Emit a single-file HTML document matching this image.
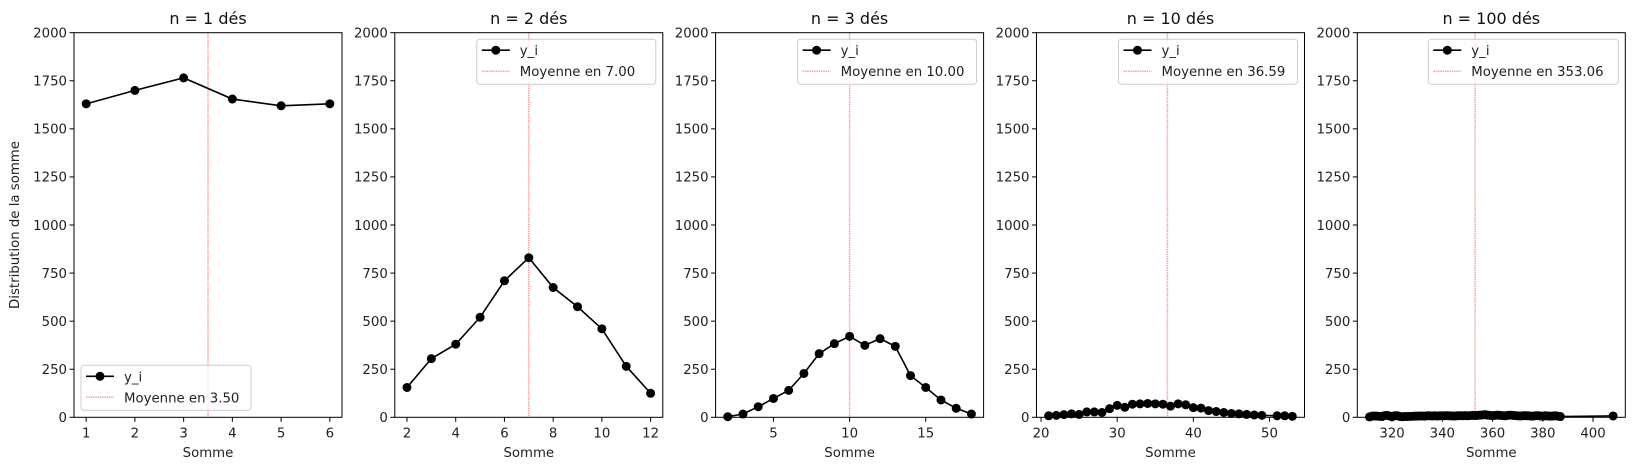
<!DOCTYPE html>
<html><head><meta charset="utf-8"><style>
html,body{margin:0;padding:0;background:#fff;}
svg{display:block;font-family:"DejaVu Sans","Liberation Sans",sans-serif;}
</style></head><body>
<svg id="fig" width="1634" height="470" viewBox="0 0 1634 470" xmlns="http://www.w3.org/2000/svg"></svg>
<script>
const titles = ["n = 1 dés","n = 2 dés","n = 3 dés","n = 10 dés","n = 100 dés"];
const means = [3.50, 7.00, 10.00, 36.59, 353.06];
const xs1 = [1,2,3,4,5,6];
const ys1 = [1630,1700,1765,1655,1620,1630];
const xs2 = [2,3,4,5,6,7,8,9,10,11,12];
const ys2 = [155,305,380,520,710,830,675,575,460,265,125];
const xs3 = [2,3,4,5,6,7,8,9,10,11,12,13,14,15,16,17,18];
const ys3 = [3,17,55,98,140,228,331,383,421,374,409,369,217,155,90,47,17];
const xs4 = [21,22,23,24,25,26,27,28,29,30,31,32,33,34,35,36,37,38,39,40,41,42,43,44,45,46,47,48,49,51,52,53];
const ys4 = [8,10,14,18,15,28,28,25,45,62,52,68,70,72,70,68,58,70,65,50,48,35,30,25,20,18,15,12,10,8,8,5];
const xs5 = [311,312,313,314,315,316,317,318,319,320,321,322,323,324,325,326,327,328,329,330,331,332,333,334,335,336,337,338,339,340,341,342,343,344,345,346,347,348,349,350,351,352,353,354,355,356,357,358,359,360,361,362,363,364,365,366,367,368,369,370,371,372,373,374,375,376,377,378,379,380,381,382,383,384,385,386,387,408];
const ys5 = [2,6,7,6,5,4,9,10,7,3,8,9,5,3,4,4,5,5,6,6,7,7,6,8,8,7,8,7,8,8,8,9,8,7,7,8,9,8,9,8,9,10,9,10,11,12,14,11,10,9,10,11,10,9,8,10,11,10,9,8,7,8,9,8,7,6,8,9,7,6,8,7,6,7,8,6,4,7];
const seriesX = [xs1,xs2,xs3,xs4,xs5];
const seriesY = [ys1,ys2,ys3,ys4,ys5];
const xTicks = [[1,2,3,4,5,6],[2,4,6,8,10,12],[5,10,15],[20,30,40,50],[320,340,360,380,400]];
const yTicks = [0,250,500,750,1000,1250,1500,1750,2000];
const yMax = 2000;

{
const NS = "http://www.w3.org/2000/svg";
const svg = document.getElementById('fig');
function mk(tag, attrs, parent){const e=document.createElementNS(NS,tag);for(const k in attrs)e.setAttribute(k,attrs[k]);(parent||svg).appendChild(e);return e;}

const lefts = [74, 394.8, 715.6, 1036.5, 1357.3];
const W = 268, AX_TOP = 32.7, AX_BOTTOM = 417.3;
const FS = 13.3;

for (let p=0;p<5;p++){
  const L = lefts[p], R = L+W;
  const xv = seriesX[p], yv = seriesY[p];
  const mn = Math.min(...xv), mxv = Math.max(...xv), pad=(mxv-mn)*0.05;
  const x0 = mn-pad, x1 = mxv+pad;
  const sx = v => L + (v-x0)/(x1-x0)*W;
  const sy = v => AX_BOTTOM - v/yMax*(AX_BOTTOM-AX_TOP);
  const g = mk('g',{});
  
  
  const ml = mk('line',{x1:sx(means[p]),x2:sx(means[p]),y1:AX_TOP,y2:AX_BOTTOM,stroke:'#ff9f9f','stroke-width':1.5,'stroke-dasharray':'1.5,0.8'},g);
  
  
  const pts = xv.map((v,i)=>sx(v)+','+sy(yv[i])).join(' ');
  const pl = mk('polyline',{points:pts,fill:'none',stroke:'#000','stroke-width':1.6},g);
  
  
  xv.forEach((v,i)=>{
    const c = mk('circle',{cx:sx(v),cy:sy(yv[i]),r:4.5,fill:'#000'},g);
    
    
  });
  const fr = mk('rect',{x:L,y:AX_TOP,width:W,height:AX_BOTTOM-AX_TOP,fill:'none',stroke:'#000','stroke-width':1},g);
  
  
  yTicks.forEach(t=>{
    mk('line',{x1:L-4.5,x2:L,y1:sy(t),y2:sy(t),stroke:'#000'},g);
    const tx = mk('text',{x:L-7,y:sy(t)+4.8,'text-anchor':'end','font-size':FS,fill:'#222'},g);
    tx.textContent = t;
    
    
  });
  xTicks[p].forEach(t=>{
    mk('line',{x1:sx(t),x2:sx(t),y1:AX_BOTTOM,y2:AX_BOTTOM+4.5,stroke:'#000'},g);
    const tx = mk('text',{x:sx(t),y:AX_BOTTOM+20,'text-anchor':'middle','font-size':FS,fill:'#222'},g);
    tx.textContent = t;
    
    
  });
  const xl = mk('text',{x:L+W/2,y:457,'text-anchor':'middle','font-size':FS,fill:'#222'},g);
  xl.textContent='Somme';
  
  
  const tt = mk('text',{x:L+W/2,y:24,'text-anchor':'middle','font-size':16,fill:'#111'},g);
  tt.textContent=titles[p];
  
  
  const lw = p===0?170:(p===4?190:179), lh=45;
  const lx = p===0? L+7 : R-7-lw;
  const ly = p===0? AX_BOTTOM-7-lh : AX_TOP+6.5;
  const lg = mk('g',{},g);
  
  
  mk('rect',{x:lx,y:ly,width:lw,height:lh,rx:3,fill:'#fff','fill-opacity':0.8,stroke:'#ccc','stroke-width':1},lg);
  mk('line',{x1:lx+5,x2:lx+33,y1:ly+11,y2:ly+11,stroke:'#000','stroke-width':1.6},lg);
  mk('circle',{cx:lx+19,cy:ly+11,r:4.5,fill:'#000'},lg);
  const t1 = mk('text',{x:lx+43,y:ly+16,'font-size':FS,fill:'#222'},lg);
  t1.textContent='y_i';
  
  
  mk('line',{x1:lx+5,x2:lx+33,y1:ly+32,y2:ly+32,stroke:'#ff9f9f','stroke-width':1.5,'stroke-dasharray':'1.5,0.8'},lg);
  const t2 = mk('text',{x:lx+43,y:ly+37,'font-size':FS,fill:'#222'},lg);
  t2.textContent='Moyenne en '+means[p].toFixed(2);
  
  
}
const yl = mk('text',{x:0,y:0,'text-anchor':'middle','font-size':FS,fill:'#222',transform:'translate(19,225) rotate(-90)'});
yl.textContent='Distribution de la somme';


}
</script>
</body></html>
